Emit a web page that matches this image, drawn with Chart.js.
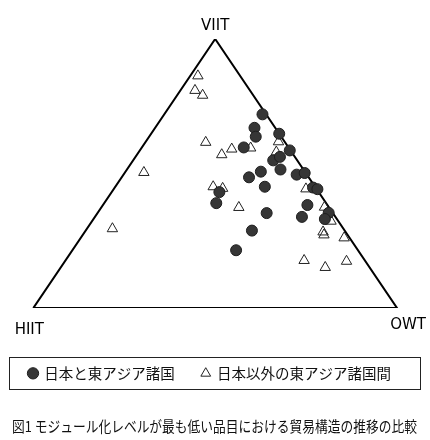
<!DOCTYPE html>
<html>
<head>
<meta charset="utf-8">
<script src="https://cdn.jsdelivr.net/npm/chart.js@4.4.1/dist/chart.umd.min.js"></script>
<style>
  html, body { margin: 0; padding: 0; background: #fff; }
  #wrap { width: 430px; height: 440px; position: relative; }
</style>
</head>
<body>
<div id="wrap"><canvas id="ternary"></canvas></div>
<script>
// corner labels of the ternary diagram
const cornerLabels = ['VIIT', 'HIIT', 'OWT'];
const seriesNames = ['日本と東アジア諸国', '日本以外の東アジア諸国間'];
const captionText = '図1 モジュール化レベルが最も低い品目における貿易構造の推移の比較';

// shares in % (HIIT = 100 - VIIT - OWT)
const japanVIIT = [72, 67, 63.7, 64.8, 59.7, 58.6, 54.9, 56.2, 51.5, 50.7, 48.6, 45.1, 49.6,
  50.2, 44.8, 44.2, 43.1, 39, 35.3, 38.3, 33.9, 35.4, 33.1, 28.8, 21.5];
const japanOWT = [27, 27.3, 29.3, 35.2, 28, 41.2, 38.5, 39.7, 42.2, 37.2, 35, 41.1, 47.6,
  49.5, 54.5, 56, 29.6, 30.8, 46.5, 56.2, 56.9, 63.5, 63.6, 45.7, 45];

const otherVIIT = [86.3, 80.9, 79.1, 61.6, 57, 59.1, 59.5, 61.8, 58, 50.4, 29.5, 45.1, 44.5,
  37.4, 44.3, 49.9, 37.5, 32.3, 28.3, 27.2, 26.1, 17.7, 15.1, 17.4];
const otherOWT = [2.1, 4, 7, 16.6, 23.3, 25, 30, 36.5, 37.8, 5.2, 7, 26.9, 29.8,
  37.8, 52.8, 49.3, 61.3, 65.7, 65.5, 66.3, 72.4, 65.6, 72.7, 77.4];

// ternary -> plane: HIIT corner (0,0), OWT corner (100,0), VIIT corner (50,100)
function toXY(viit, owt) {
  return viit.map((v, i) => ({ x: owt[i] + v / 2, y: v }));
}

const frame = [
  { x: 0, y: 0 }, { x: 100, y: 0 }, { x: 50, y: 100 }, { x: 0, y: 0 }
];

const legendPad = 27;
const legendSize = 14.5;

const cornerPlugin = {
  id: 'corners',
  afterDraw(chart) {
    const { ctx, scales: { x, y } } = chart;
    ctx.save();
    ctx.fillStyle = '#000';
    ctx.font = '15px "DejaVu Sans"';
    ctx.textBaseline = 'middle';
    ctx.textAlign = 'center';
    ctx.fillText(cornerLabels[0], x.getPixelForValue(50), y.getPixelForValue(100) - 13);
    ctx.fillText(cornerLabels[1], x.getPixelForValue(0) - 4, y.getPixelForValue(0) + 22);
    ctx.fillText(cornerLabels[2], x.getPixelForValue(100) + 11, y.getPixelForValue(0) + 17);

    // frame round the legend
    const lg = chart.legend;
    const mid = lg.top + legendPad + legendSize / 2;
    ctx.strokeStyle = '#222';
    ctx.lineWidth = 1;
    ctx.strokeRect(9.5, Math.round(mid) - 15.5, 411, 32);

    // figure caption, squeezed a little like the printed one
    ctx.fillStyle = '#111';
    ctx.font = '15px "Noto Sans CJK JP"';
    ctx.fillText(captionText, 214.5, mid + 53, 405);
    ctx.restore();
  }
};

new Chart(document.getElementById('ternary'), {
  type: 'scatter',
  data: {
    datasets: [
      {
        label: seriesNames[0],
        data: toXY(japanVIIT, japanOWT),
        pointStyle: 'circle',
        pointRadius: 5.5,
        backgroundColor: '#363636',
        borderColor: '#1e1e1e',
        borderWidth: 1,
        order: 1
      },
      {
        label: seriesNames[1],
        data: toXY(otherVIIT, otherOWT),
        pointStyle: 'triangle',
        pointRadius: 6,
        backgroundColor: 'rgba(255,255,255,0)',
        borderColor: '#222',
        borderWidth: 1,
        order: 2
      },
      {
        label: 'frame',
        type: 'line',
        data: frame,
        borderColor: '#000',
        borderWidth: 2,
        borderJoinStyle: 'miter',
        pointRadius: 0,
        fill: false,
        order: 3
      }
    ]
  },
  options: {
    responsive: true,
    maintainAspectRatio: false,
    animation: false,
    layout: { autoPadding: false, padding: { left: 0, right: 10, top: 39, bottom: 49.4 } },
    scales: {
      x: {
        // frame corners land at 33px and 397px
        min: -9.15, max: 106.3,
        grid: { display: false },
        border: { display: false },
        ticks: { display: false },
        afterFit: function (scale) { scale.height = 31; }
      },
      y: {
        display: false,
        min: 0, max: 100
      }
    },
    plugins: {
      tooltip: { enabled: false },
      legend: {
        position: 'bottom',
        labels: {
          usePointStyle: true,
          boxWidth: 8,
          boxHeight: 8,
          padding: legendPad,
          color: '#111',
          font: { family: 'Noto Sans CJK JP', size: legendSize },
          filter: item => item.datasetIndex < 2
        }
      },
      title: { display: false }
    }
  },
  plugins: [cornerPlugin]
});
</script>
</body>
</html>
